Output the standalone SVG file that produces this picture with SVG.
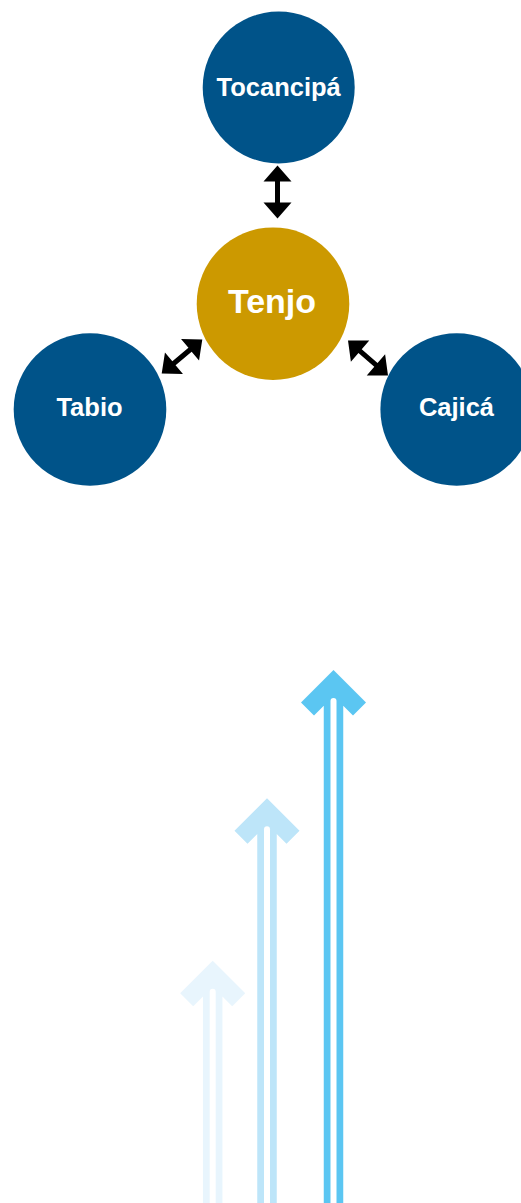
<svg xmlns="http://www.w3.org/2000/svg" xmlns:xlink="http://www.w3.org/1999/xlink" width="521" height="1203" viewBox="0 0 521 1203">
<style>
.node{fill:#005389}
.hub{fill:#CC9900}
.lbl{font-family:"Liberation Sans",Arial,sans-serif;font-weight:bold;fill:#ffffff;text-anchor:middle}
.sm{font-size:25.5px}
.lg{font-size:34px}
.conn{fill:#000000}
</style>
<defs>
<path id="dbl" d="M0,-26.5 L14,-10.5 L2.5,-10.5 L2.5,10.5 L14,10.5 L0,26.5 L-14,10.5 L-2.5,10.5 L-2.5,-10.5 L-14,-10.5 Z"/>
<g id="up">
<path d="M0,0 L32.5,32.5 L19.5,45.5 L9.75,35.75 L9.75,600 L-9.75,600 L-9.75,35.75 L-19.5,45.5 L-32.5,32.5 Z"/>
<line x1="0" y1="31" x2="0" y2="600" stroke="#ffffff" stroke-width="6" stroke-linecap="round"/>
</g>
</defs>
<rect width="521" height="1203" fill="#ffffff"/>
<g id="connectors" class="conn">
<use xlink:href="#dbl" transform="translate(277.5,192)"/>
<use xlink:href="#dbl" transform="translate(182,356.5) rotate(50)"/>
<use xlink:href="#dbl" transform="translate(368,358) rotate(-49)"/>
</g>
<g id="node-tocancipa">
<circle class="node" cx="278.7" cy="87.5" r="76"/>
<text class="lbl sm" x="278.7" y="95.7">Tocancipá</text>
</g>
<g id="node-tenjo">
<circle class="hub" cx="273" cy="303.7" r="76.3"/>
<text class="lbl lg" x="272" y="312.7">Tenjo</text>
</g>
<g id="node-tabio">
<circle class="node" cx="90" cy="409.5" r="76.3"/>
<text class="lbl sm" x="89.5" y="416">Tabio</text>
</g>
<g id="node-cajica">
<circle class="node" cx="456.7" cy="409.5" r="76.3"/>
<text class="lbl sm" x="456.5" y="416">Cajicá</text>
</g>
<g id="growth-arrows">
<use xlink:href="#up" fill="#E8F5FD" transform="translate(212.7,960.7)"/>
<use xlink:href="#up" fill="#BDE5F9" transform="translate(267,798.3)"/>
<use xlink:href="#up" fill="#5BC6F2" transform="translate(333.5,670)"/>
</g>
</svg>
